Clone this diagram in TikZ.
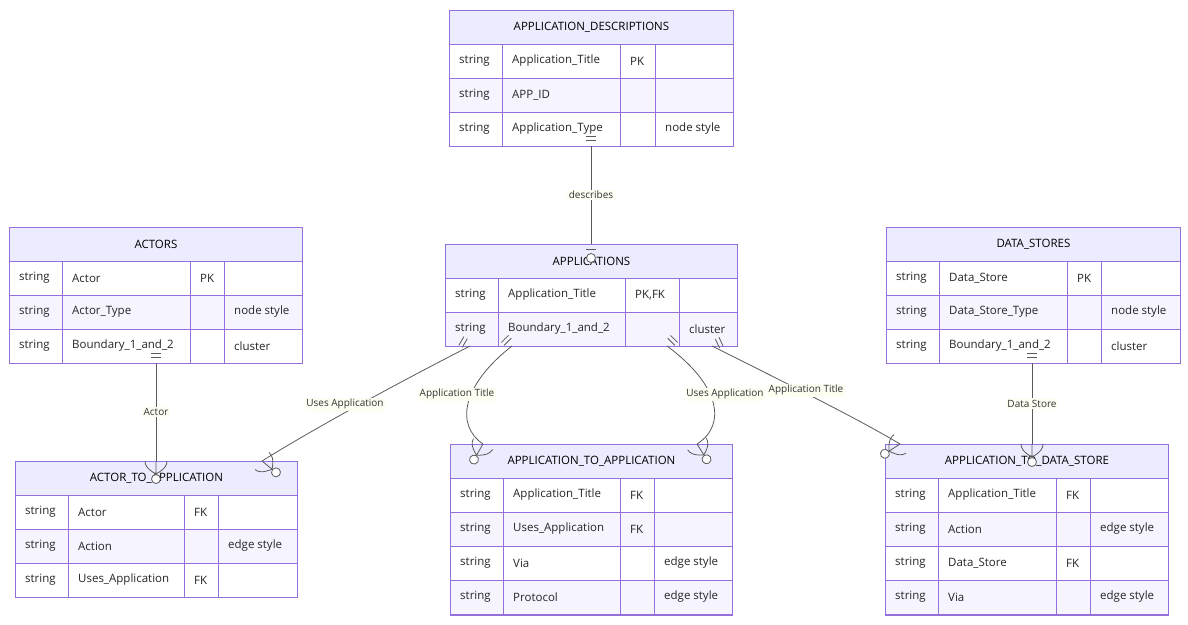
\documentclass[tikz,border=0pt]{standalone}
\usepackage{fontspec}
\setmainfont{Open Sans}
\usetikzlibrary{calc}

\definecolor{erborder}{HTML}{9370DB}
\definecolor{erhead}{HTML}{ECECFF}
\definecolor{errow}{HTML}{F5F4FF}
\definecolor{erline}{HTML}{5A5A5A}
\definecolor{erlabel}{HTML}{FCFEF2}

\tikzset{
  cell/.style={draw=erborder, line width=0.9pt},
  celltext/.style={anchor=west, inner sep=0pt, font=\fontsize{11.5}{13}\selectfont, text=black!85},
  hdr/.style={fill=erhead, draw=erborder, line width=0.9pt, anchor=north west, inner sep=0pt, font=\fontsize{11.5}{13}\selectfont},
  rel/.style={draw=erline, line width=0.8pt},
  rellabel/.style={fill=erlabel, inner sep=1.5pt, font=\fontsize{10}{12}\selectfont, text=black!80},
  onebar/.pic={\draw[rel] (-6,-5) -- (-6,5) (-10,-5) -- (-10,5);},
  zeroone/.pic={\draw[rel] (-5,-5) -- (-5,5); \draw[rel, fill=white] (-14,0) circle (4.5);},
  zeromany/.pic={\draw[rel] (-13,0) .. controls (-8,-9) and (-4,-11) .. (0,-11)
      (-13,0) .. controls (-8,9) and (-4,11) .. (0,11) (-13,0) -- (0,0);
    \draw[rel, fill=white] (-18,0) circle (4.5);}
}

% id, title, x0, y0, x1, y1, cols xa/xb/xc, rows
\def\setcols#1/#2/#3\relax{\def\xa{#1}\def\xb{#2}\def\xc{#3}}
\newcommand{\ertable}[8]{%
  \setcols#7\relax
  \node[hdr, minimum width={(#5-#3)*1pt}, minimum height=34pt] (#1-h) at (#3,#4) {#2};
  \foreach \t/\n/\k/\c [count=\i] in {#8} {
    \pgfmathsetmacro\ya{#4+34*\i}
    \pgfmathsetmacro\yb{#4+34*(\i+1)}
    \pgfmathsetmacro\ym{#4+34*\i+17}
    \ifodd\i\def\rc{white}\else\def\rc{errow}\fi
    \fill[\rc] (#3,\ya) rectangle (#5,\yb);
    \draw[cell] (#3,\ya) rectangle (\xa,\yb) (\xa,\ya) rectangle (\xb,\yb)
      (\xb,\ya) rectangle (\xc,\yb) (\xc,\ya) rectangle (#5,\yb);
    \node[celltext] at (#3+10,\ym) {\t};
    \node[celltext] at (\xa+10,\ym) {\n};
    \node[celltext] at (\xb+10,\ym) {\k};
    \node[celltext] at (\xc+10,\ym) {\c};
  }
  \node[draw=erborder, line width=0.9pt, anchor=north west, inner sep=0pt, outer sep=0pt,
    minimum width={(#5-#3)*1pt}, minimum height={(#6-#4)*1pt}] (#1) at (#3,#4) {};
}

\begin{document}
\begin{tikzpicture}[x=1pt,y=-1pt]
\useasboundingbox (0,0) rectangle (1188,624);

% tables
\ertable{desc}{APPLICATION\_DESCRIPTIONS}{449}{10}{733}{146}{502/620/655}
  {string/Application\_Title/PK/, string/APP\_ID//, string/Application\_Type//node style}
\ertable{actors}{ACTORS}{9}{227}{302}{363}{62/190/224}
  {string/Actor/PK/, string/Actor\_Type//node style, string/Boundary\_1\_and\_2//cluster}
\ertable{apps}{APPLICATIONS}{445}{244}{737}{346}{498/625/679}
  {string/Application\_Title/{PK,FK}/, string/Boundary\_1\_and\_2//cluster}
\ertable{stores}{DATA\_STORES}{886}{227}{1180}{363}{939/1067/1101}
  {string/Data\_Store/PK/, string/Data\_Store\_Type//node style, string/Boundary\_1\_and\_2//cluster}
\ertable{a2a}{ACTOR\_TO\_APPLICATION}{15}{461}{297}{597}{68/184/218}
  {string/Actor/FK/, string/Action//edge style, string/Uses\_Application/FK/}
\ertable{app2app}{APPLICATION\_TO\_APPLICATION}{450}{444}{732}{580+35}{503/620/654}
  {string/Application\_Title/FK/, string/Uses\_Application/FK/, string/Via//edge style, string/Protocol//edge style}
\ertable{app2ds}{APPLICATION\_TO\_DATA\_STORE}{885}{444}{1168}{615}{938/1056/1090}
  {string/Application\_Title/FK/, string/Action//edge style, string/Data\_Store/FK/, string/Via//edge style}

% connector ends
\coordinate (dA) at (desc.south);
\coordinate (dB) at (apps.north);
\coordinate (aA) at (actors.south -| 156,0);
\coordinate (aB) at (a2a.north -| 156,0);
\coordinate (uA) at ($(apps.south west)+(25,0)$);
\coordinate (uB) at ($(a2a.north west)+(247,0)$);
\coordinate (tA) at ($(apps.south west)+(67,0)$);
\coordinate (tB) at ($(app2app.north west)+(33,0)$);
\coordinate (vA) at ($(apps.south west)+(222,0)$);
\coordinate (vB) at ($(app2app.north west)+(247,0)$);
\coordinate (wA) at ($(apps.south west)+(267,0)$);
\coordinate (wB) at ($(app2ds.north west)+(15,0)$);
\coordinate (sA) at (stores.south -| 1032,0);
\coordinate (sB) at (app2ds.north -| 1032,0);

% relations
\draw[rel] (dA) -- node[rellabel] (ldesc) {describes} (dB);
\draw[rel] (aA) -- node[rellabel] (lactor) {Actor} (aB);
\draw[rel] (sA) -- node[rellabel] (lstore) {Data Store} (sB);
\draw[rel] (uA) .. controls (400,382) and (320,425) .. (uB);
\draw[rel] (tA) .. controls (462,385) and (455,425) .. (tB);
\draw[rel] (vA) .. controls (720,385) and (727,425) .. (vB);
\draw[rel] (wA) .. controls (790,385) and (860,420) .. (wB);
\node[rellabel] (luses) at (345,404) {Uses Application};
\node[rellabel] (ltitle) at (457,394) {Application Title};
\node[rellabel] (luses2) at (725,394) {Uses Application};
\node[rellabel] (ltitle2) at (806,390) {Application Title};

% markers
\pic[rotate=-90] at (dA) {onebar};
\pic[rotate=90] at (dB) {zeroone};
\pic[rotate=-90] at (aA) {onebar};
\pic[rotate=90] at (aB) {zeromany};
\pic[rotate=-90] at (sA) {onebar};
\pic[rotate=90] at (sB) {zeromany};
\pic[rotate=-30] at (uA) {onebar};
\pic[rotate=141] at (uB) {zeromany};
\pic[rotate=-45] at (tA) {onebar};
\pic[rotate=60] at (tB) {zeromany};
\pic[rotate=-135] at (vA) {onebar};
\pic[rotate=122] at (vB) {zeromany};
\pic[rotate=-155] at (wA) {onebar};
\pic[rotate=33] at (wB) {zeromany};
\end{tikzpicture}
\end{document}
